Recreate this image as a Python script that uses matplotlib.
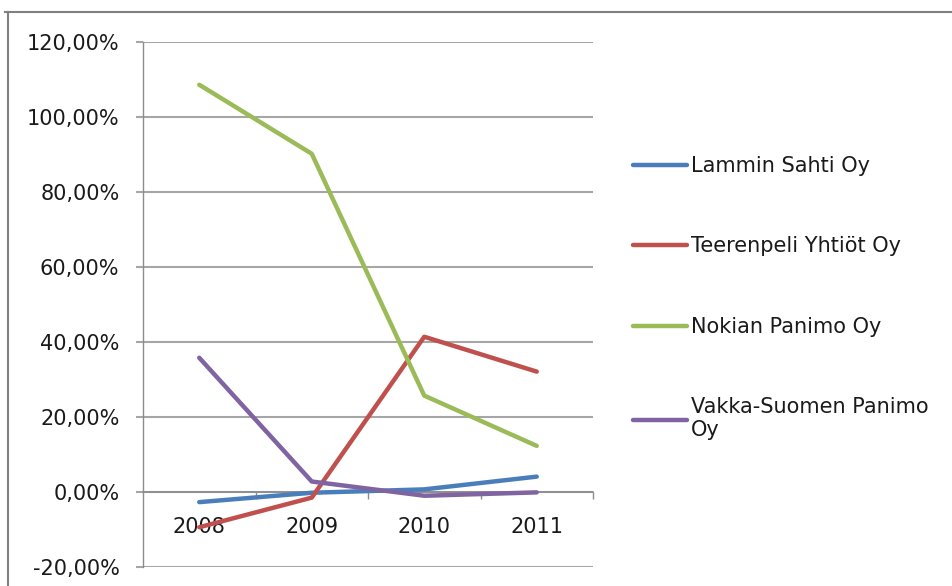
import matplotlib
matplotlib.use('Agg')
import matplotlib.pyplot as plt
from matplotlib.lines import Line2D
from matplotlib.ticker import FuncFormatter, FixedLocator

# data (percent)
years = ['2008', '2009', '2010', '2011']
lammin = [-2.7, -0.2, 0.7, 4.1]
teerenpeli = [-9.4, -1.5, 41.4, 32.1]
nokian = [108.6, 90.2, 25.7, 12.3]
vakka = [35.8, 2.8, -1.0, -0.1]

names = ['Lammin Sahti Oy', 'Teerenpeli Yhtiöt Oy', 'Nokian Panimo Oy',
         'Vakka-Suomen Panimo\nOy']
colors = ['#4a7ebb', '#c0504d', '#9bbb59', '#8064a2']

plt.rcParams['font.family'] = ['DejaVu Sans']
plt.rcParams['font.size'] = 15

fig = plt.figure(figsize=(9.52, 5.86), dpi=100)
ax = fig.add_axes([143/952, 1-567/586, 450/952, 525/586])

x = list(range(len(years)))
for vals, name, c in zip([lammin, teerenpeli, nokian, vakka], names, colors):
    ax.plot(x, vals, color=c, lw=3.2, label=name, solid_capstyle='round',
            solid_joinstyle='round', zorder=3)

ax.set_xlim(-0.5, 3.5)
ax.set_ylim(-20, 120)
ax.set_yticks(range(-20, 121, 20))
ax.yaxis.set_major_formatter(FuncFormatter(lambda v, p: ('%.2f' % v).replace('.', ',') + '%'))
ax.grid(axis='y', color='#a6a6a6', lw=1.5, zorder=0)

for s in ['top', 'right']:
    ax.spines[s].set_visible(False)
ax.spines['left'].set_color('#8c8c8c')
ax.spines['left'].set_linewidth(1)
ax.spines['bottom'].set_position(('data', 0))
ax.spines['bottom'].set_color('#8c8c8c')
ax.spines['bottom'].set_linewidth(1.2)

ax.tick_params(axis='y', length=5, color='#a6a6a6', width=1.5, pad=12, labelcolor='#1a1a1a')
ax.set_xticks(x)
ax.set_xticklabels(years)
ax.tick_params(axis='x', which='major', length=0, pad=18, labelcolor='#1a1a1a')
ax.xaxis.set_minor_locator(FixedLocator([0.5, 1.5, 2.5, 3.5]))
ax.tick_params(axis='x', which='minor', length=5, color='#8c8c8c', width=1, direction='out')

leg = ax.legend(loc='upper left', bbox_to_anchor=(633/952, 1-156/586),
                bbox_transform=fig.transFigure, frameon=False,
                handlelength=2.6, handletextpad=0.2, labelspacing=2.9,
                borderaxespad=0, borderpad=0)
for t in leg.get_texts():
    t.set_color('#1a1a1a')

# outer chart frame (top and left edges visible)
fig.add_artist(Line2D([5/952, 1], [1-12/586, 1-12/586], color='#808080', lw=1.5,
                      transform=fig.transFigure))
fig.add_artist(Line2D([8/952, 8/952], [0, 1-12/586], color='#808080', lw=1.5,
                      transform=fig.transFigure))

fig.savefig('out.png', dpi=100)
